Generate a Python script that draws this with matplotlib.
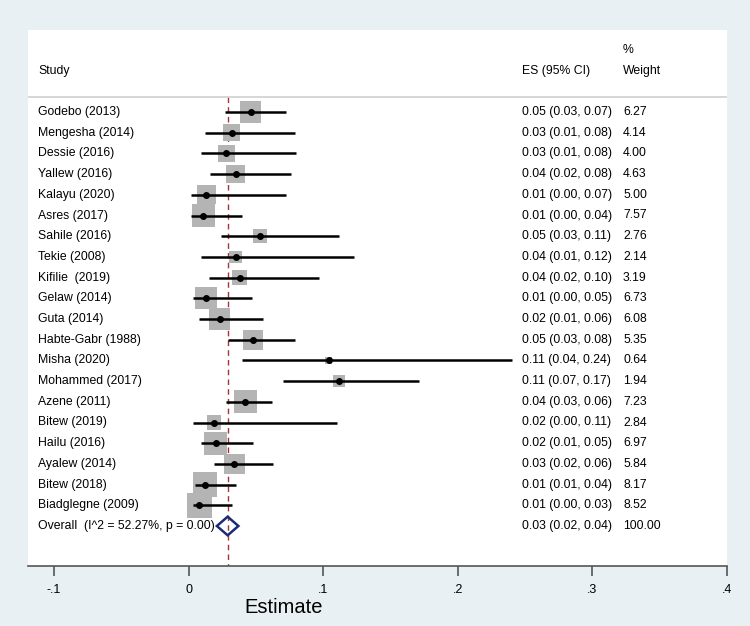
import matplotlib
matplotlib.use("Agg")
import matplotlib.pyplot as plt
from matplotlib.patches import Polygon
import matplotlib.transforms as mtransforms

plt.rcParams['font.family'] = ['Liberation Sans', 'DejaVu Sans']

studies = ["Godebo (2013)", "Mengesha (2014)", "Dessie (2016)", "Yallew (2016)",
           "Kalayu (2020)", "Asres (2017)", "Sahile (2016)", "Tekie (2008)",
           "Kifilie  (2019)", "Gelaw (2014)", "Guta (2014)", "Habte-Gabr (1988)",
           "Misha (2020)", "Mohammed (2017)", "Azene (2011)", "Bitew (2019)",
           "Hailu (2016)", "Ayalew (2014)", "Bitew (2018)", "Biadglegne (2009)"]
es = [0.046, 0.032, 0.028, 0.035, 0.013, 0.011, 0.053, 0.035, 0.038, 0.013,
      0.023, 0.048, 0.104, 0.112, 0.042, 0.019, 0.020, 0.034, 0.012, 0.008]
lo = [0.027, 0.012, 0.009, 0.016, 0.002, 0.002, 0.024, 0.009, 0.015, 0.003,
      0.008, 0.029, 0.040, 0.070, 0.028, 0.003, 0.009, 0.019, 0.005, 0.003]
hi = [0.072, 0.079, 0.080, 0.076, 0.072, 0.040, 0.112, 0.123, 0.097, 0.047,
      0.055, 0.079, 0.240, 0.171, 0.062, 0.110, 0.048, 0.063, 0.035, 0.032]
es_text = ["0.05 (0.03, 0.07)", "0.03 (0.01, 0.08)", "0.03 (0.01, 0.08)", "0.04 (0.02, 0.08)",
           "0.01 (0.00, 0.07)", "0.01 (0.00, 0.04)", "0.05 (0.03, 0.11)", "0.04 (0.01, 0.12)",
           "0.04 (0.02, 0.10)", "0.01 (0.00, 0.05)", "0.02 (0.01, 0.06)", "0.05 (0.03, 0.08)",
           "0.11 (0.04, 0.24)", "0.11 (0.07, 0.17)", "0.04 (0.03, 0.06)", "0.02 (0.00, 0.11)",
           "0.02 (0.01, 0.05)", "0.03 (0.02, 0.06)", "0.01 (0.01, 0.04)", "0.01 (0.00, 0.03)"]
weights = [6.27, 4.14, 4.00, 4.63, 5.00, 7.57, 2.76, 2.14, 3.19, 6.73,
           6.08, 5.35, 0.64, 1.94, 7.23, 2.84, 6.97, 5.84, 8.17, 8.52]

overall_label = "Overall  (I^2 = 52.27%, p = 0.00)"
overall_es, overall_lo, overall_hi = 0.029, 0.021, 0.037
overall_text = "0.03 (0.02, 0.04)"
overall_weight = "100.00"

xticks = [-0.1, 0, 0.1, 0.2, 0.3, 0.4]
xticklabels = ["-.1", "0", ".1", ".2", ".3", ".4"]

W, H = 750, 626
fig = plt.figure(figsize=(7.5, 6.26), dpi=100, facecolor="#e9f0f3")
left_px, right_px, top_px, bot_px = 28, 727, 30, 566
ax = fig.add_axes([left_px / W, 1 - bot_px / H, (right_px - left_px) / W, (bot_px - top_px) / H])
ax.set_facecolor("white")

row_px = 20.7
first_px = 112
n = len(studies)
ymin = (bot_px - first_px) / row_px
ymax = (top_px - first_px) / row_px
ax.set_ylim(ymin, ymax)
ax.set_xlim(-0.1 - (54 - left_px) / 1346.0, 0.4)

for s in ["left", "right", "top"]:
    ax.spines[s].set_visible(False)
ax.spines["bottom"].set_color("#555555")
ax.spines["bottom"].set_linewidth(1.2)
ax.set_yticks([])
ax.set_xticks(xticks)
ax.set_xticklabels(xticklabels, fontsize=9)
ax.tick_params(axis="x", direction="out", length=7, width=1.2, color="#555555", pad=6)

rows = list(range(n))
overall_row = n

header_line = -0.72
# dashed overall line
ax.plot([overall_es, overall_es], [header_line, ymin], color="#a8323a", lw=1.0,
        ls=(0, (4, 3)), zorder=1)

# boxes
ax.scatter(es, rows, s=[38 * w for w in weights], marker="s", color="#b4b4b4",
           edgecolors="none", zorder=2)
for r, l, h in zip(rows, lo, hi):
    ax.plot([l, h], [r, r], color="black", lw=1.8, solid_capstyle="butt", zorder=3)
ax.scatter(es, rows, s=16, color="black", zorder=4)

# diamond
dh = 0.45
diamond = Polygon([(overall_lo, overall_row), (overall_es, overall_row - dh),
                   (overall_hi, overall_row), (overall_es, overall_row + dh)],
                  closed=True, fill=False, edgecolor="#1c2a78", lw=1.8, zorder=5)
ax.add_patch(diamond)

# header separator
ax.axhline(header_line, color="#cfcfcf", lw=1.2)

trans = mtransforms.blended_transform_factory(ax.transAxes, ax.transData)
x_study = (38 - left_px) / (right_px - left_px)
x_es = (522 - left_px) / (right_px - left_px)
x_w = (623 - left_px) / (right_px - left_px)
fs = 8.8
ax.text(x_study, -1.98, "Study", transform=trans, fontsize=fs, va="center")
ax.text(x_es, -1.98, "ES (95% CI)", transform=trans, fontsize=fs, va="center")
ax.text(x_w, -1.98, "Weight", transform=trans, fontsize=fs, va="center")
ax.text(x_w, -3.0, "%", transform=trans, fontsize=fs, va="center")
for r, name, t, w in zip(rows, studies, es_text, weights):
    ax.text(x_study, r, name, transform=trans, fontsize=fs, va="center")
    ax.text(x_es, r, t, transform=trans, fontsize=fs, va="center")
    ax.text(x_w, r, f"{w:.2f}", transform=trans, fontsize=fs, va="center")
ax.text(x_study, overall_row, overall_label, transform=trans, fontsize=fs, va="center")
ax.text(x_es, overall_row, overall_text, transform=trans, fontsize=fs, va="center")
ax.text(x_w, overall_row, overall_weight, transform=trans, fontsize=fs, va="center")

fig.text(284 / W, 1 - 613 / H, "Estimate", fontsize=14.5, ha="center", va="baseline")

fig.savefig("out.png", dpi=100, facecolor=fig.get_facecolor())
